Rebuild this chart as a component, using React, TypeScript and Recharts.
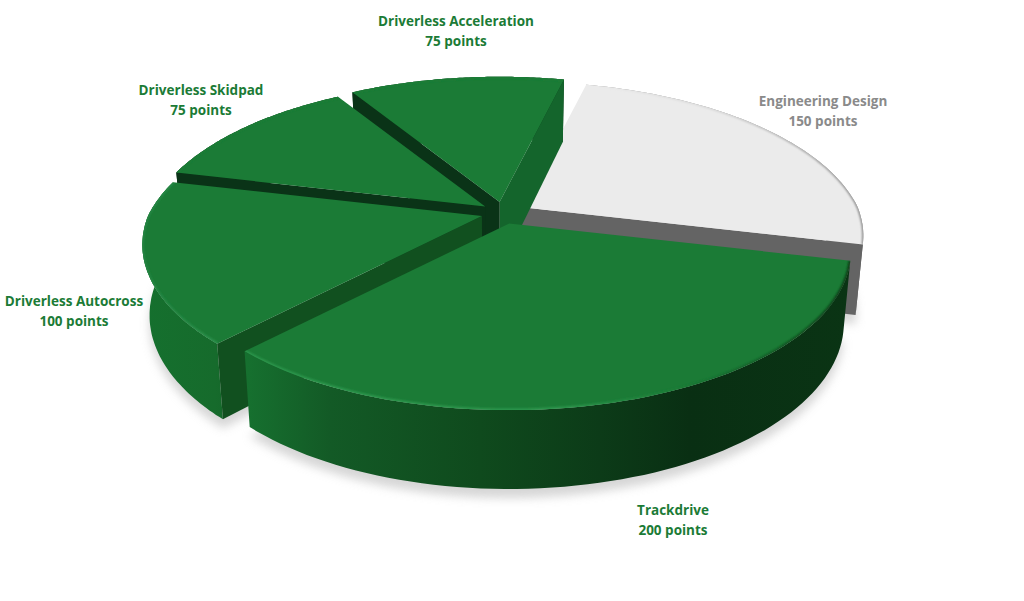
import React from "react";
import { PieChart, Pie } from "recharts";

const eventNames = ["Engineering Design", "Driverless Acceleration", "Driverless Skidpad", "Driverless Autocross", "Trackdrive"];
const eventPoints = [150, 75, 75, 100, 200];
const data = eventNames.map((name, i) => ({ name, points: eventPoints[i] }));

// presentation (kept apart from the values)
const W = 1024, H = 601;
const CX = 503, CY = 213;
const RX = 335, RY = 153, K_BACK = 0.22, K_FRONT = 0.18;
const EX = 22, EY = 11;
const TOP_FILL = ["#ebebeb", "#1b7b36", "#1b7b36", "#1b7b36", "#1b7b36"];
const LABEL_FILL = ["#8a8a8a", "#1b7b36", "#1b7b36", "#1b7b36", "#1b7b36"];
// visible cut faces: first = edge at the sector's startAngle, second = edge at its endAngle
const CUT_FILL: (string | null)[][] = [["#646464", null], ["#14652c", "#0a3317"], [null, "#0a3317"], [null, "#11501f"], [null, null]];
const WALL_STOPS: [number, string][][] = [
  [[500, "#777777"], [860, "#626262"]],
  [[350, "#0a3317"], [570, "#0a3317"]],
  [[170, "#0a3317"], [342, "#0a3317"]],
  [[143, "#15702e"], [215, "#166b2c"], [240, "#146428"]],
  [[248, "#16702f"], [330, "#135a26"], [480, "#0f4a1d"], [600, "#0c3b18"], [690, "#092f13"], [850, "#0a3414"]],
];
const RIM_STOPS: [number, string][][] = [
  [[590, "#ebebeb"], [720, "#d0d0d0"], [860, "#777777"]],
  [[350, "#1b7b36"], [570, "#1b7b36"]],
  [[180, "#1b7b36"], [342, "#1b7b36"]],
  [[143, "#258544"], [216, "#2f9450"]],
  [[248, "#2f9a50"], [560, "#2f9a50"], [680, "#1b7b36"], [780, "#124f22"], [850, "#0a3414"]],
];
const LABEL_CENTER: [number, number][] = [[823, 106], [456, 26], [201, 95], [74, 306], [673, 515]];

type Pt = [number, number];
const rad = (d: number) => (d * Math.PI) / 180;

function top(thetaDeg: number, r: number, offX: number, offY: number): Pt {
  const u = Math.sin(rad(thetaDeg)) * r;
  const v = -Math.cos(rad(thetaDeg)) * r;
  const p = 1 / (1 - (v < 0 ? K_BACK : K_FRONT) * v);
  return [CX + offX + (RX + 1 * u) * u * p, CY + offY + RY * v * p];
}
function drop([x, y]: Pt): Pt {
  return [CX + (x - CX) * 0.98, CY + (y - CY) * 1.05 + 69];
}
const toPath = (pts: Pt[]) => "M" + pts.map((q) => q[0].toFixed(1) + "," + q[1].toFixed(1)).join("L") + "Z";
const toLine = (pts: Pt[]) => "M" + pts.map((q) => q[0].toFixed(1) + "," + q[1].toFixed(1)).join("L");

function geometry(startAngle: number, endAngle: number) {
  const a = 90 - startAngle;
  const b = 90 - endAngle;
  const mid = (a + b) / 2;
  const offX = EX * Math.sin(rad(mid));
  const offY = -EY * Math.cos(rad(mid));
  const arc: Pt[] = [];
  const n = 70;
  for (let i = 0; i <= n; i++) arc.push(top(a + ((b - a) * i) / n, 1, offX, offY));
  const apex: Pt = [CX + offX, CY + offY];
  return { apex, arc };
}

function ShadowSector(props: any) {
  const { apex, arc } = geometry(props.startAngle, props.endAngle);
  const low = [apex, ...arc].map(drop).map(([x, y]) => [x, y + 9] as Pt);
  return (
    <g>
      <defs>
        <filter id={"soft" + props.index} x="-20%" y="-20%" width="140%" height="140%">
          <feGaussianBlur stdDeviation="5" />
        </filter>
      </defs>
      <path d={toPath(low)} filter={`url(#soft${props.index})`} fill="#bdbdbd" opacity={0.62} />
    </g>
  );
}

function Sector3D(props: any) {
  const i: number = props.index;
  const { apex, arc } = geometry(props.startAngle, props.endAngle);
  const wallPts = [...arc, ...arc.map(drop).reverse()];
  const cut = (edge: Pt) => [apex, edge, drop(edge), drop(apex)] as Pt[];
  const first = arc[0];
  const last = arc[arc.length - 1];
  const grad = (id: string, stops: [number, string][]) => (
    <linearGradient id={id} gradientUnits="userSpaceOnUse" x1={stops[0][0]} x2={stops[stops.length - 1][0]} y1={0} y2={0}>
      {stops.map(([x, c], k) => (
        <stop key={k} offset={(x - stops[0][0]) / (stops[stops.length - 1][0] - stops[0][0])} stopColor={c} />
      ))}
    </linearGradient>
  );
  return (
    <g>
      <defs>
        {grad("wall" + i, WALL_STOPS[i])}
        {grad("rim" + i, RIM_STOPS[i])}
        <filter id={"rimBlur" + i} x="-5%" y="-5%" width="110%" height="110%">
          <feGaussianBlur stdDeviation="0.9" />
        </filter>
        <clipPath id={"topClip" + i}>
          <path d={toPath([apex, ...arc])} />
        </clipPath>
      </defs>
      <path d={toPath(wallPts)} fill={`url(#wall${i})`} />
      {CUT_FILL[i][0] ? <path d={toPath(cut(first))} fill={CUT_FILL[i][0] as string} /> : null}
      {CUT_FILL[i][1] ? <path d={toPath(cut(last))} fill={CUT_FILL[i][1] as string} /> : null}
      <path d={toPath([apex, ...arc])} fill={TOP_FILL[i]} />
      <g clipPath={`url(#topClip${i})`}>
        <path d={toLine(arc)} fill="none" stroke={`url(#rim${i})`} strokeWidth={i === 0 ? 2 : 3} filter={`url(#rimBlur${i})`} />
      </g>
    </g>
  );
}

function EventLabel(props: any) {
  const i: number = props.index;
  const [x, y] = LABEL_CENTER[i];
  return (
    <text
      x={x}
      y={y}
      textAnchor="middle"
      fontFamily="'Open Sans', sans-serif"
      fontWeight={700}
      fontSize={13.5}
      fill={LABEL_FILL[i]}
    >
      <tspan x={x} dy={0}>{eventNames[i]}</tspan>
      <tspan x={x} dy={20}>{eventPoints[i]} points</tspan>
    </text>
  );
}

export default function App() {
  return (
    <div style={{ position: "absolute", left: 0, top: 0, width: W, height: H, background: "#fff" }}>
      <PieChart width={W} height={H} margin={{ top: 0, right: 0, bottom: 0, left: 0 }}>
        <Pie
          data={data}
          dataKey="points"
          nameKey="name"
          cx={CX}
          cy={CY}
          outerRadius={RX}
          startAngle={-13.5}
          endAngle={346.5}
          stroke="none"
          isAnimationActive={false}
          shape={ShadowSector}
          legendType="none"
        />
        <Pie
          data={data}
          dataKey="points"
          nameKey="name"
          cx={CX}
          cy={CY}
          outerRadius={RX}
          startAngle={-13.5}
          endAngle={346.5}
          stroke="none"
          isAnimationActive={false}
          shape={Sector3D}
          label={EventLabel}
          labelLine={false}
        />
      </PieChart>
    </div>
  );
}
